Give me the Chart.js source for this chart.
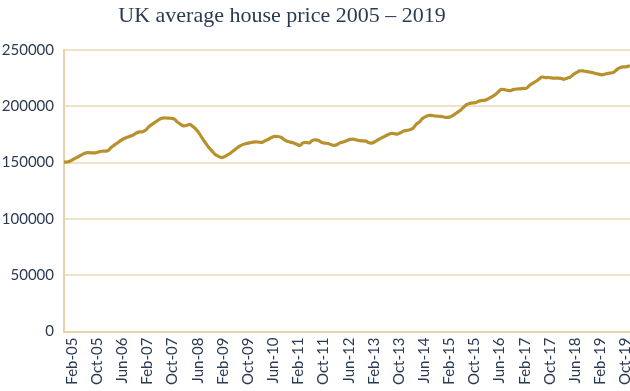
<!DOCTYPE html>
<html>
<head>
<meta charset="utf-8">
<script src="https://cdn.jsdelivr.net/npm/chart.js@4"></script>
<style>
  html, body { margin: 0; padding: 0; background: #ffffff; }
  #wrap { position: relative; width: 630px; height: 391px; }
</style>
</head>
<body>
<div id="wrap"><canvas id="c" width="630" height="391"></canvas></div>
<script>
// ---- Data ----
const chartTitle = 'UK average house price 2005 \u2013 2019';
const monthNames = ['Jan','Feb','Mar','Apr','May','Jun','Jul','Aug','Sep','Oct','Nov','Dec'];
const startMonth = 1;   // Feb
const startYear = 2005;
// monthly average price, Feb-05 onwards
const prices = [
  150500,150600,151500,153000,154500,156000,157500,158700,158800,158600,
  158700,159500,160100,160200,160600,163500,165500,167500,169500,171300,
  172500,173500,174400,176300,177300,177500,179000,182000,184000,185900,
  187800,189300,189800,189500,189400,188900,186200,184200,182600,183000,
  184000,182000,179500,176000,171500,167500,163600,160500,157500,155800,
  154600,155300,156800,158600,160800,163000,164800,166200,167000,167500,
  168200,168500,168200,168000,169500,170800,172300,173300,173200,172500,
  170500,169000,168200,167500,166300,165200,167500,168000,167500,169800,
  170200,169600,167800,167300,167000,165800,165300,166300,167800,168500,
  169600,170600,170800,170200,169500,169300,169100,167600,167500,168800,
  170500,172000,173300,174700,175900,175800,175300,176500,178000,178600,
  179200,180500,184000,186000,189200,190800,192000,191800,191400,191200,
  191000,190300,190200,190800,192500,194500,196200,199000,201500,202500,
  203000,203300,204800,205200,205500,206800,208300,210000,212500,215000,
  214800,214200,214000,215000,215400,215500,216000,215900,218500,220300,
  222000,224000,226000,225500,225600,225200,225000,225000,224800,224000,
  225000,226000,228300,230000,231500,231500,231000,230500,230000,229200,
  228600,228000,228500,229300,229600,230500,233000,234500,235000,235200,
  236000
];
const tickLabels = ['Feb-05','Oct-05','Jun-06','Feb-07','Oct-07','Jun-08','Feb-09','Oct-09',
  'Jun-10','Feb-11','Oct-11','Jun-12','Feb-13','Oct-13','Jun-14','Feb-15','Oct-15','Jun-16',
  'Feb-17','Oct-17','Jun-18','Feb-19','Oct-19'];
const yTicks = [0, 50000, 100000, 150000, 200000, 250000];

// category labels (month-year)
const categories = prices.map((_, i) => {
  const m = (startMonth + i) % 12;
  const y = startYear + Math.floor((startMonth + i) / 12);
  return monthNames[m] + '-' + String(y).slice(2);
});

const textColor = '#2c3a51';
const gridColor = '#efe2c6';
const axisColor = '#e6d3ab';
const lineColor = '#b8912f';

const titlePlugin = {
  id: 'customTitle',
  afterDraw(chart) {
    const ctx = chart.ctx;
    ctx.save();
    ctx.font = '22px "Liberation Serif", serif';
    ctx.fillStyle = textColor;
    ctx.textAlign = 'center';
    ctx.textBaseline = 'middle';
    ctx.fillText(chartTitle, 282, 16);
    ctx.restore();
  }
};

new Chart(document.getElementById('c'), {
  type: 'line',
  data: {
    labels: categories,
    datasets: [{
      data: prices,
      borderColor: lineColor,
      borderWidth: 3.2,
      pointRadius: 0,
      tension: 0.3,
      fill: false,
      clip: 4
    }]
  },
  options: {
    responsive: false,
    animation: false,
    layout: { padding: { top: 50, right: 0, left: 2, bottom: 0 } },
    plugins: { legend: { display: false }, tooltip: { enabled: false } },
    scales: {
      x: {
        offset: false,
        afterFit: (s) => { s.paddingLeft = 0; s.paddingRight = 0; },
        grid: { display: false, drawTicks: false },
        border: { display: true, color: axisColor, width: 2 },
        ticks: {
          autoSkip: false,
          maxRotation: 90, minRotation: 90,
          padding: 6,
          labelOffset: 8,
          color: textColor,
          font: { family: 'Lato', size: 15 },
          callback: function(v, i) {
            const lab = this.getLabelForValue(v);
            return tickLabels.includes(lab) && i % 8 === 0 ? lab : '';
          }
        }
      },
      y: {
        min: 0, max: 250000,
        afterBuildTicks: (axis) => { axis.ticks = yTicks.map(v => ({ value: v })); },
        afterFit: (s) => { s.width = 62; },
        grid: { color: gridColor, lineWidth: 2, drawTicks: false },
        border: { display: true, color: axisColor, width: 2 },
        ticks: {
          padding: 10,
          color: textColor,
          font: { family: 'Lato', size: 15 },
          callback: (v) => String(v)
        }
      }
    }
  },
  plugins: [titlePlugin]
});
</script>
</body>
</html>
